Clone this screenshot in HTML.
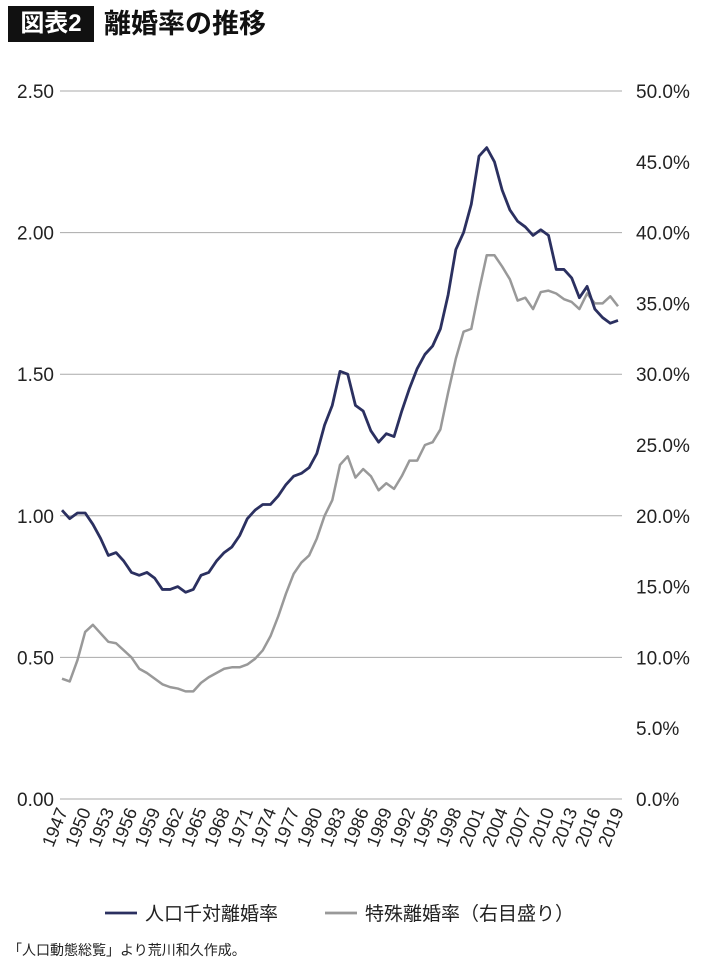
<!DOCTYPE html>
<html><head><meta charset="utf-8"><style>
body{margin:0;width:710px;height:970px;background:#fff;font-family:"Liberation Sans","Noto Sans CJK JP",sans-serif;overflow:hidden;position:relative}
#title-badge{position:absolute;left:8px;top:6px;width:86px;height:36px;background:#111;color:#fff;font-weight:bold;font-size:24px;line-height:36px;text-align:center}
#title{position:absolute;left:104px;top:4px;font-size:27px;font-weight:bold;color:#111;line-height:40px}
#foot{position:absolute;left:8px;top:940px;font-size:14px;color:#222}
</style></head><body>
<div id="title-badge">図表2</div>
<div id="title">離婚率の推移</div>
<svg id="chart" width="710" height="930" style="position:absolute;left:0;top:0"></svg>
<div id="foot">「人口動態総覧」より荒川和久作成。</div>
<script>
const years=[];for(let y=1947;y<=2019;y++)years.push(y);
const crudeRate=[1.02,0.99,1.01,1.01,0.97,0.92,0.86,0.87,0.84,0.80,0.79,0.80,0.78,0.74,0.74,0.75,0.73,0.74,0.79,0.80,0.84,0.87,0.89,0.93,0.99,1.02,1.04,1.04,1.07,1.11,1.14,1.15,1.17,1.22,1.32,1.39,1.51,1.50,1.39,1.37,1.30,1.26,1.29,1.28,1.37,1.45,1.52,1.57,1.60,1.66,1.78,1.94,2.00,2.10,2.27,2.30,2.25,2.15,2.08,2.04,2.02,1.99,2.01,1.99,1.87,1.87,1.84,1.77,1.81,1.73,1.70,1.68,1.69];
const specialRate=[8.5,8.3,9.8,11.8,12.3,11.7,11.1,11.0,10.5,10.0,9.2,8.9,8.5,8.1,7.9,7.8,7.6,7.6,8.2,8.6,8.9,9.2,9.3,9.3,9.5,9.9,10.5,11.5,12.9,14.5,15.9,16.7,17.2,18.4,20.0,21.1,23.6,24.2,22.7,23.3,22.8,21.8,22.3,21.9,22.8,23.9,23.9,25.0,25.2,26.1,28.7,31.1,33.0,33.2,35.9,38.4,38.4,37.6,36.7,35.2,35.4,34.6,35.8,35.9,35.7,35.3,35.1,34.6,35.7,35.0,35.0,35.5,34.8];
const leftTicks=[0,0.5,1.0,1.5,2.0,2.5];
const rightTicks=[0,5,10,15,20,25,30,35,40,45,50];
const NS="http://www.w3.org/2000/svg";
const svg=document.getElementById('chart');
const X0=62,X1=618,Y0=799,Y1=91,GL=60,GR=622;
const x=i=>X0+(X1-X0)*i/(years.length-1);
const yL=v=>Y0-(Y0-Y1)*v/2.5;
const yR=v=>Y0-(Y0-Y1)*v/50;
function mk(t,a){const e=document.createElementNS(NS,t);for(const k in a)e.setAttribute(k,a[k]);svg.appendChild(e);return e;}
leftTicks.forEach(v=>{
 const l=mk('line',{x1:GL,x2:GR,y1:yL(v),y2:yL(v),stroke:'#aaa','stroke-width':1});
 
 
 const t=mk('text',{x:54,y:yL(v)+7,'text-anchor':'end','font-size':19,fill:'#222'});t.textContent=v.toFixed(2);
 
 
});
rightTicks.forEach(v=>{
 const t=mk('text',{x:636,y:yR(v)+7,'font-size':19,fill:'#222'});t.textContent=v.toFixed(1)+'%';
 
 
});
years.forEach((yr,i)=>{if((yr-1947)%3)return;
 const t=mk('text',{x:0,y:0,'text-anchor':'end','font-size':18,fill:'#222',transform:`translate(${x(i)+6},${811}) rotate(-68)`});t.textContent=yr;
 
 
});
const p2=mk('polyline',{points:specialRate.map((v,i)=>x(i)+','+yR(v)).join(' '),fill:'none',stroke:'#999','stroke-width':2.5,'stroke-linejoin':'round'});


const p1=mk('polyline',{points:crudeRate.map((v,i)=>x(i)+','+yL(v)).join(' '),fill:'none',stroke:'#2b3060','stroke-width':2.8,'stroke-linejoin':'round'});


const legend=[['#2b3060',105,'人口千対離婚率'],['#999',325,'特殊離婚率（右目盛り）']];
legend.forEach(([c,lx,lab])=>{
 const l=mk('line',{x1:lx,x2:lx+32,y1:913,y2:913,stroke:c,'stroke-width':2.8});
 
 
 const t=mk('text',{x:lx+40,y:920,'font-size':19,fill:'#222'});t.textContent=lab;
 
 
});
</script>
</body></html>
